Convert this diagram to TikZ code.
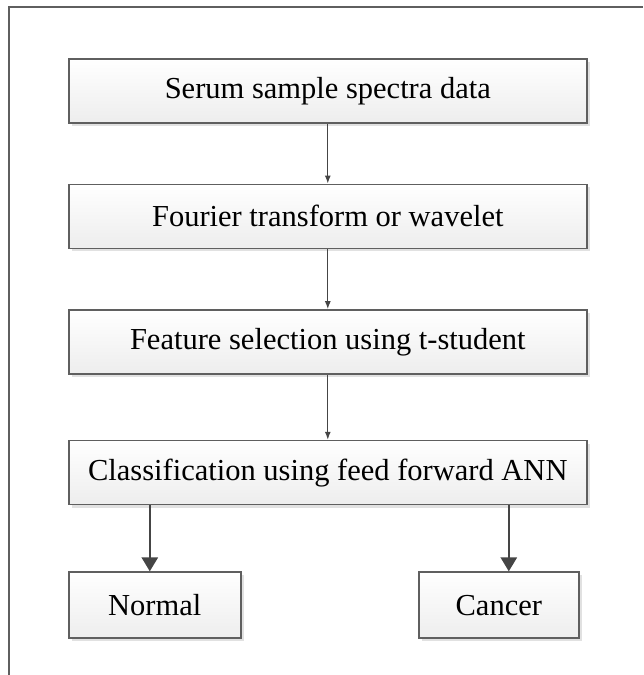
\documentclass[tikz,border=0pt]{standalone}
\usepackage{fontspec}
\setmainfont{Liberation Serif}
\usetikzlibrary{positioning, arrows.meta, shadows}

\definecolor{rand}{HTML}{5F5F5F}
\definecolor{pfeil}{HTML}{454545}

\begin{document}
\begin{tikzpicture}[
      font=\fontsize{30.5}{35}\selectfont,
      box/.style={draw=rand, line width=1.6pt, align=center, inner sep=4pt,
                  minimum height=64pt, minimum width=518pt,
                  top color=white, bottom color=black!7,
                  drop shadow={shadow xshift=3pt, shadow yshift=-3pt, fill=black!15, opacity=0.8}},
      leaf/.style={box, minimum height=66pt},
      flow/.style={-{Latex[length=8pt, width=6pt]}, line width=1.3pt, draw=pfeil},
      bigflow/.style={-{Triangle[length=14pt, width=16pt]}, line width=2.6pt, draw=pfeil},
      node distance=60pt
    ]
    \useasboundingbox (0pt,0pt) rectangle (643pt,-675pt);
    % Rahmen (nur oben und links sichtbar)
    \draw[rand, line width=1.6pt] (9pt,-675pt) -- (9pt,-7pt) -- (643pt,-7pt);

    \node[box, anchor=north west] (serum) at (68pt,-58pt) {Serum sample spectra data};
    \node[box, below=of serum] (fourier) {Fourier transform or wavelet};
    \node[box, below=of fourier] (feature) {Feature selection using t-student};
    \node[box, below=65pt of feature] (classif) {Classification using feed forward ANN};

    \node[leaf, minimum width=172pt, anchor=north west] (normal) at ([yshift=-66pt]classif.south west) {Normal};
    \node[leaf, minimum width=160pt, anchor=north east] (cancer) at ([xshift=-8pt, yshift=-66pt]classif.south east) {Cancer};

    % lineare Kette
    \draw[flow] (serum) -- (fourier);
    \draw[flow] (fourier) -- (feature);
    \draw[flow] (feature) -- (classif);
    % Verzweigung
    \draw[bigflow] (classif.south -| normal.north) ++(-5pt,0) coordinate (n0) -- (n0 |- normal.north);
    \draw[bigflow] (classif.south -| cancer.north) ++(10pt,0) coordinate (c0) -- (c0 |- cancer.north);
  \end{tikzpicture}
\end{document}
